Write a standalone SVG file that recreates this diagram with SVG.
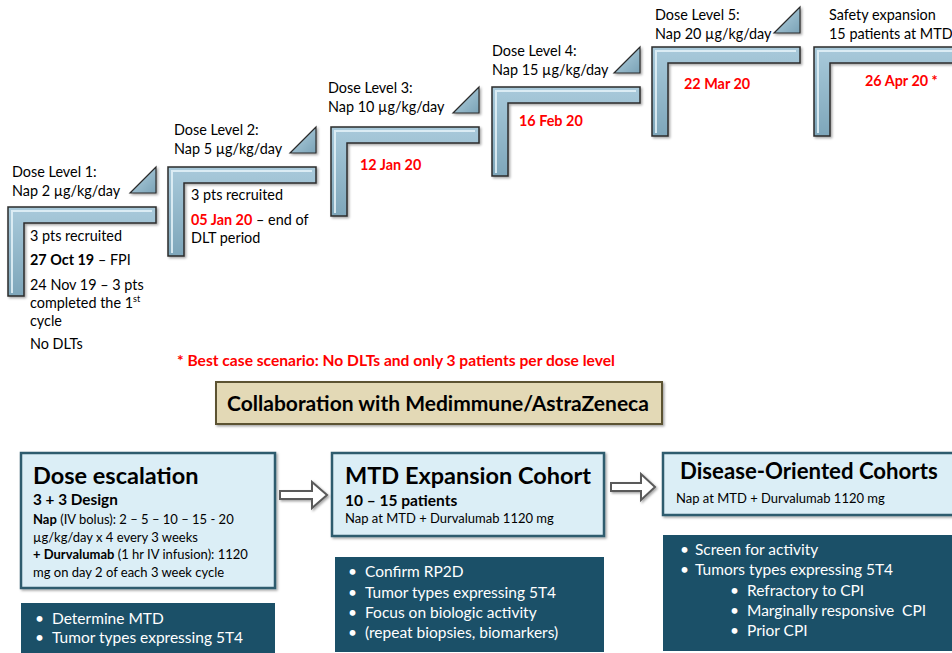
<svg xmlns="http://www.w3.org/2000/svg" width="952" height="653" viewBox="0 0 952 653">
<defs>
  <linearGradient id="stepG" x1="0" y1="0" x2="0" y2="1">
    <stop offset="0" stop-color="#a9cadb"/>
    <stop offset="1" stop-color="#7ea6ba"/>
  </linearGradient>
  <linearGradient id="triG" x1="0" y1="0" x2="1" y2="1">
    <stop offset="0" stop-color="#b8d6e4"/>
    <stop offset="1" stop-color="#7aa2b6"/>
  </linearGradient>
  <filter id="sh" x="-10%" y="-10%" width="130%" height="130%">
    <feDropShadow dx="1.5" dy="1.5" stdDeviation="1.2" flood-color="#000" flood-opacity="0.35"/>
  </filter>
  <path id="ell" d="M0,0 H148 V16 H16 V89 H0 Z"/>
  <path id="hl" d="M4,86 V4 H144"/>
  <path id="tri" d="M122,-14 L148,-40 V-14 Z"/>
</defs>
<style>
  text { font-family: "Lato", "Open Sans", "Liberation Sans", sans-serif; fill: #000; }
  .lbl { font-size: 14.4px; }
  .red { fill: #ff0000; font-weight: bold; }
  .b { font-weight: bold; }
  .step { fill: url(#stepG); stroke: #2b2b2b; stroke-width: 1.5; filter: url(#sh); }
  .hl { fill: none; stroke: #e4f2f8; stroke-width: 2; opacity: 0.85; }
  .tri { fill: url(#triG); stroke: #2b2b2b; stroke-width: 1.2; filter: url(#sh); }
  .lite { fill: #dbeef6; stroke: #2f5b6e; stroke-width: 2.5; filter: url(#sh); }
  .dark { fill: #1b5068; }
  .wt { fill: #ffffff; font-size: 15.5px; }
  .big { font-size: 23.5px; font-weight: bold; }
  .sm { font-size: 13px; }
  .conn { fill: #ffffff; stroke: #5a5a5a; stroke-width: 2; filter: url(#sh); }
</style>
<rect width="952" height="653" fill="#ffffff"/>

<g id="step1" transform="translate(8,207)">
  <use href="#ell" class="step"/><use href="#hl" class="hl"/><use href="#tri" class="tri"/>
</g>
<g id="step2" transform="translate(168,167)">
  <use href="#ell" class="step"/><use href="#hl" class="hl"/><use href="#tri" class="tri"/>
</g>
<g id="step3" transform="translate(331,127)">
  <use href="#ell" class="step"/><use href="#hl" class="hl"/><use href="#tri" class="tri"/>
</g>
<g id="step4" transform="translate(492,87)">
  <use href="#ell" class="step"/><use href="#hl" class="hl"/><use href="#tri" class="tri"/>
</g>
<g id="step5" transform="translate(652,47)">
  <use href="#ell" class="step"/><use href="#hl" class="hl"/><use href="#tri" class="tri"/>
</g>
<g id="step6" transform="translate(814,47)">
  <path d="M0,0 H160 V16 H16 V89 H0 Z" class="step"/><path d="M4,86 V4 H160" class="hl"/>
</g>

<g id="labels1">
  <text x="12" y="177" class="lbl">Dose Level 1:</text>
  <text x="12" y="196" class="lbl">Nap 2 µg/kg/day</text>
  <text x="30" y="241" class="lbl">3 pts recruited</text>
  <text x="30" y="265" class="lbl"><tspan class="b">27 Oct 19</tspan> – FPI</text>
  <text x="30" y="290" class="lbl">24 Nov 19 – 3 pts</text>
  <text x="30" y="308" class="lbl">completed the 1<tspan font-size="9" dy="-6">st</tspan></text>
  <text x="30" y="326" class="lbl">cycle</text>
  <text x="30" y="349" class="lbl">No DLTs</text>
</g>
<g id="labels2">
  <text x="174" y="135" class="lbl">Dose Level 2:</text>
  <text x="174" y="154" class="lbl">Nap 5 µg/kg/day</text>
  <text x="191" y="200" class="lbl">3 pts recruited</text>
  <text x="191" y="225" class="lbl"><tspan class="red">05 Jan 20</tspan> – end of</text>
  <text x="191" y="243" class="lbl">DLT period</text>
</g>
<g id="labels3">
  <text x="328" y="93" class="lbl">Dose Level 3:</text>
  <text x="328" y="112" class="lbl">Nap 10 µg/kg/day</text>
  <text x="360" y="170" class="lbl red">12 Jan 20</text>
</g>
<g id="labels4">
  <text x="492" y="56" class="lbl">Dose Level 4:</text>
  <text x="492" y="75" class="lbl">Nap 15 µg/kg/day</text>
  <text x="519" y="126" class="lbl red">16 Feb 20</text>
</g>
<g id="labels5">
  <text x="655" y="20" class="lbl">Dose Level 5:</text>
  <text x="655" y="39" class="lbl">Nap 20 µg/kg/day</text>
  <text x="684" y="89" class="lbl red">22 Mar 20</text>
</g>
<g id="labels6">
  <text x="829" y="20" class="lbl">Safety expansion</text>
  <text x="829" y="39" class="lbl">15 patients at MTD</text>
  <text x="865" y="86" class="lbl red">26 Apr 20 *</text>
</g>

<text id="note" x="177" y="366" font-size="15.6" class="red">* Best case scenario: No DLTs and only 3 patients per dose level</text>

<g id="collab">
  <rect x="216" y="382" width="446" height="42" fill="#e3d9b6" stroke="#5b5232" stroke-width="2" filter="url(#sh)"/>
  <text x="438" y="411" text-anchor="middle" font-size="21" class="b">Collaboration with Medimmune/AstraZeneca</text>
</g>

<g id="doseEscalation">
  <rect x="21" y="453" width="254" height="135" class="lite"/>
  <text x="33" y="484" class="big">Dose escalation</text>
  <text x="33" y="505" font-size="15.3" class="b">3 + 3 Design</text>
  <text x="33" y="524" class="sm"><tspan class="b">Nap</tspan> (IV bolus): 2 – 5 – 10 – 15 - 20</text>
  <text x="33" y="542" class="sm">µg/kg/day x 4 every 3 weeks</text>
  <text x="33" y="559" class="sm"><tspan class="b">+ Durvalumab</tspan> (1 hr IV infusion): 1120</text>
  <text x="33" y="577" class="sm">mg on day 2 of each 3 week cycle</text>
</g>
<g id="doseGoals">
  <rect x="21" y="603" width="254" height="60" class="dark"/>
  <text x="35" y="624" class="wt">•</text><text x="52" y="624" class="wt">Determine MTD</text>
  <text x="35" y="643" class="wt">•</text><text x="52" y="643" class="wt">Tumor types expressing 5T4</text>
</g>

<g id="mtdExpansion">
  <rect x="332" y="453" width="272" height="83" class="lite"/>
  <text x="345" y="484" class="big">MTD Expansion Cohort</text>
  <text x="345" y="506" font-size="15.5" class="b">10 – 15 patients</text>
  <text x="345" y="523" class="sm">Nap at MTD + Durvalumab 1120 mg</text>
</g>
<g id="mtdGoals">
  <rect x="335" y="557" width="269" height="95" class="dark"/>
  <text x="348" y="577" class="wt">•</text><text x="365" y="577" class="wt">Confirm RP2D</text>
  <text x="348" y="598" class="wt">•</text><text x="365" y="598" class="wt">Tumor types expressing 5T4</text>
  <text x="348" y="618" class="wt">•</text><text x="365" y="618" class="wt">Focus on biologic activity</text>
  <text x="348" y="638" class="wt">•</text><text x="365" y="638" class="wt">(repeat biopsies, biomarkers)</text>
</g>

<g id="diseaseCohorts">
  <rect x="663" y="453" width="300" height="62" class="lite"/>
  <text x="680" y="479" class="big" style="font-size:22.2px">Disease-Oriented Cohorts</text>
  <text x="676" y="503" class="sm">Nap at MTD + Durvalumab 1120 mg</text>
</g>
<g id="diseaseGoals">
  <rect x="663" y="535" width="300" height="116" class="dark"/>
  <text x="680" y="555" class="wt">•</text><text x="695" y="555" class="wt">Screen for activity</text>
  <text x="680" y="575" class="wt">•</text><text x="695" y="575" class="wt">Tumors types expressing 5T4</text>
  <text x="730" y="596" class="wt">•</text><text x="747" y="596" class="wt">Refractory to CPI</text>
  <text x="730" y="616" class="wt">•</text><text x="747" y="616" class="wt" xml:space="preserve">Marginally responsive  CPI</text>
  <text x="730" y="636" class="wt">•</text><text x="747" y="636" class="wt">Prior CPI</text>
</g>

<g id="connectors">
  <path class="conn" d="M280,491 H312 V482 L327,495 L312,508 V499 H280 Z"/>
  <path class="conn" d="M611,483 H641 V474 L655,487 L641,500 V491 H611 Z"/>
</g>
</svg>
